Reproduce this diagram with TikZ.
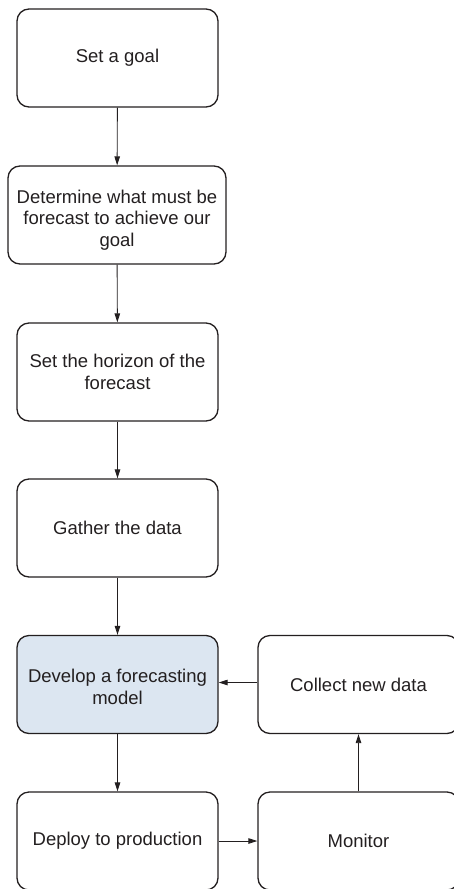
\documentclass[tikz,border=0pt]{standalone}
\usepackage{fontspec}
\setmainfont{Liberation Sans}
\usetikzlibrary{arrows.meta}
\definecolor{boxblue}{HTML}{DCE6F1}
\definecolor{ink}{HTML}{231F20}
\begin{document}
\begin{tikzpicture}[x=1pt,y=-1pt,
  box/.style={draw=ink, line width=1.3pt, rounded corners=12pt, minimum width=201pt,
    minimum height=98pt, align=center, font=\fontsize{18.5}{21.5}\selectfont,
    text=ink, inner sep=0pt},
  arr/.style={-{Triangle[length=9pt,width=5.5pt]}, line width=0.9pt, draw=ink}]
\useasboundingbox (0,0) rectangle (453,889);
\node[box] (goal) at (117.5,58) {Set a goal};
\node[box, minimum width=218pt] (det) at (117,215) {\rule{0pt}{23pt}Determine what must be\\forecast to achieve our\\goal};
\node[box] (hor) at (117.5,372) {Set the horizon of the\\forecast};
\node[box] (gat) at (117.5,528) {Gather the data};
\node[box, fill=boxblue] (dev) at (117.5,684.5) {\rule{0pt}{18pt}Develop a forecasting\\model};
\node[box] (dep) at (117.5,841) {Deploy to production};
\node[box] (mon) at (358.5,841) {Monitor};
\node[box] (col) at (358.5,684.5) {Collect new data};
\draw[arr] (goal) -- (det);
\draw[arr] (det) -- (hor);
\draw[arr] (hor) -- (gat);
\draw[arr] (gat) -- (dev);
\draw[arr] (dev) -- (dep);
\draw[arr] (dep) -- (mon);
\draw[arr] (mon) -- (col);
\draw[arr] ([yshift=2pt]col.west) -- ([yshift=2pt]dev.east);
\end{tikzpicture}
\end{document}
